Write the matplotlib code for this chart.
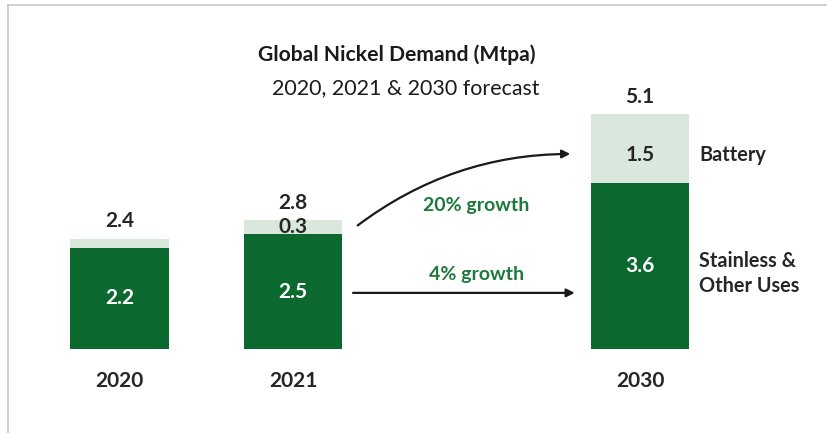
import matplotlib.pyplot as plt
from matplotlib.lines import Line2D

plt.rcParams['font.family'] = ['Lato', 'DejaVu Sans']

# demand by segment, Mtpa
years = ['2020', '2021', '2030']
x_pos = [0, 1, 3]
stainless = [2.2, 2.5, 3.6]
battery = [0.2, 0.3, 1.5]
totals = [2.4, 2.8, 5.1]
growth_labels = ['20% growth', '4% growth']

DARK = '#0b6930'
LIGHT = '#d9e7dd'
TEXT = '#262626'
GREEN_TXT = '#1d7a3a'

fig = plt.figure(figsize=(8.27, 4.33), dpi=100)
ax = fig.add_axes([0, 0, 1, 1])
ax.set_xlim(-0.689, 4.078)
ax.set_ylim(-1.826, 7.587)
ax.axis('off')

w = 0.57
ax.bar(x_pos, stainless, width=w, color=DARK)
ax.bar(x_pos, battery, width=w, bottom=stainless, color=LIGHT)

# segment values inside / above bars
for x, yr, s, b, t in zip(x_pos, years, stainless, battery, totals):
    ax.text(x, s / 2, f'{s:.1f}', color='white', ha='center', va='center',
            fontsize=15, fontweight='bold')
    ax.text(x, s + b + 0.38, f'{t:.1f}', color=TEXT, ha='center', va='center',
            fontsize=15, fontweight='bold')
    ax.text(x, -0.7, yr, color=TEXT, ha='center', va='center',
            fontsize=15, fontweight='bold')

# battery labels for 2021 and 2030 (2020 slice too thin)
ax.text(x_pos[1], stainless[1] + 0.15, f'{battery[1]:.1f}',
        color=TEXT, ha='center', va='center', fontsize=15, fontweight='bold')
ax.text(x_pos[2], stainless[2] + battery[2] / 2 - 0.13, f'{battery[2]:.1f}',
        color=TEXT, ha='center', va='center', fontsize=15, fontweight='bold')

# series labels on the right
ax.text(x_pos[2] + 0.34, stainless[2] + battery[2] / 2 - 0.13, 'Battery',
        color=TEXT, ha='left', va='center', fontsize=14.3, fontweight='bold')
ax.text(x_pos[2] + 0.34, stainless[2] / 2 - 0.15, 'Stainless &\nOther Uses',
        color=TEXT, ha='left', va='center', fontsize=14.3, fontweight='bold',
        linespacing=1.3)

# growth arrows
ax.annotate('', xy=(2.614, 4.24), xytext=(1.36, 2.65),
            arrowprops=dict(arrowstyle='-|>', color='#1a1a1a', lw=1.6,
                            mutation_scale=12,
                            connectionstyle='arc3,rad=-0.17'))
ax.annotate('', xy=(x_pos[2] - 0.36, 1.22), xytext=(x_pos[1] + 0.33, 1.22),
            arrowprops=dict(arrowstyle='-|>', color='#1a1a1a', lw=1.6,
                            mutation_scale=12))
ax.text(2.055, 3.13, growth_labels[0], color=GREEN_TXT, ha='center',
        va='center', fontsize=14, fontweight='bold')
ax.text(2.06, 1.61, growth_labels[1], color=GREEN_TXT, ha='center',
        va='center', fontsize=14, fontweight='bold')

# title block
fig.text(0.48, 0.874, 'Global Nickel Demand (Mtpa)', color='#1a1a1a',
         ha='center', va='center', fontsize=15.2, fontweight='bold')
fig.text(0.491, 0.797, '2020, 2021 & 2030 forecast', color='#1a1a1a',
         ha='center', va='center', fontsize=15.4)

# frame edges
fig.add_artist(Line2D([0.0097, 1.0], [0.988, 0.988], color='#c8c8c8', lw=1.2))
fig.add_artist(Line2D([0.0097, 0.0097], [0.0, 0.988], color='#c8c8c8', lw=1.2))

fig.savefig('out.png', dpi=100)
